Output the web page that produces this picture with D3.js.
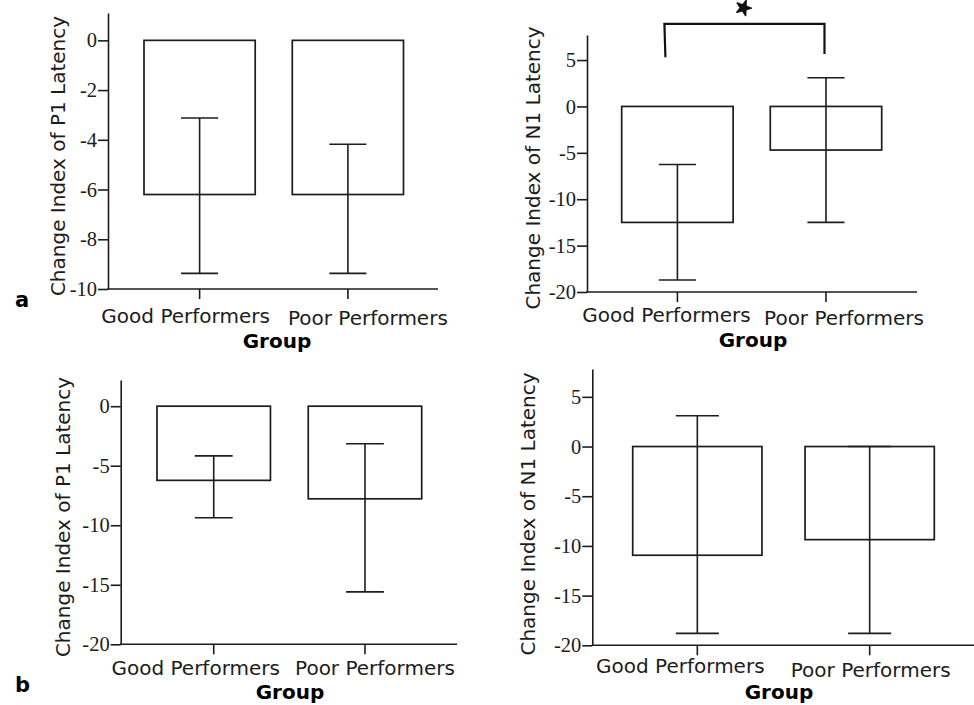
<!DOCTYPE html>
<html>
<head>
<meta charset="utf-8">
<script src="https://cdn.jsdelivr.net/npm/d3@7"></script>
<style>
  html, body { margin: 0; padding: 0; background: #fff; }
  svg { display: block; }
</style>
</head>
<body>
<svg id="chart" width="974" height="705"></svg>
<script>
// ---------------- DATA ----------------
const categories = ["Good Performers", "Poor Performers"];

// Panel a, left: P1 latency
const p1aMeans = [-6.2, -6.2];
const p1aLower = [-9.37, -9.37];
const p1aUpper = [-3.12, -4.18];
const p1aTicks = [0, -2, -4, -6, -8, -10];

// Panel a, right: N1 latency
const n1aMeans = [-12.5, -4.7];
const n1aLower = [-18.7, -12.5];
const n1aUpper = [-6.25, 3.1];
const n1aTicks = [5, 0, -5, -10, -15, -20];

// Panel b, left: P1 latency
const p1bMeans = [-6.23, -7.78];
const p1bLower = [-9.37, -15.6];
const p1bUpper = [-4.17, -3.16];
const p1bTicks = [0, -5, -10, -15, -20];

// Panel b, right: N1 latency
const n1bMeans = [-10.94, -9.37];
const n1bLower = [-18.8, -18.8];
const n1bUpper = [3.1, 0];
const n1bTicks = [5, 0, -5, -10, -15, -20];

const yTitleP1 = "Change Index of P1 Latency";
const yTitleN1 = "Change Index of N1 Latency";
const xTitle = "Group";
const panelLetters = ["a", "b"];

// significance bracket (panel a right), in data units
const sigBracket = { y: 8.9, leftEnd: 5.3, rightEnd: 5.65 };

// ---------------- LAYOUT ----------------
const panels = [
  { title: yTitleP1, means: p1aMeans, lower: p1aLower, upper: p1aUpper, ticks: p1aTicks,
    yDomain: [-10, 1.1], yRange: [289, 13], axisX: [108, 438], band: [144, 403.5],
    titleX: 65, titleY: 156, labelDx: [-14, 20], labelY: [323.3, 325],
    groupX: 277, groupY: 348 },
  { title: yTitleN1, means: n1aMeans, lower: n1aLower, upper: n1aUpper, ticks: n1aTicks,
    yDomain: [-20, 7.7], yRange: [292, 35], axisX: [587, 917], band: [621.7, 881.7],
    titleX: 540, titleY: 168, labelDx: [-11, 18], labelY: [321.7, 325],
    groupX: 753, groupY: 347, bracket: true },
  { title: yTitleP1, means: p1bMeans, lower: p1bLower, upper: p1bUpper, ticks: p1bTicks,
    yDomain: [-20, 2.2], yRange: [644.3, 380], axisX: [120.7, 457], band: [157, 421.7],
    titleX: 70, titleY: 517, labelDx: [-18, 10], labelY: [675, 675],
    groupX: 290, groupY: 699 },
  { title: yTitleN1, means: n1bMeans, lower: n1bLower, upper: n1bUpper, ticks: n1bTicks,
    yDomain: [-20, 7.8], yRange: [645.3, 369], axisX: [592.3, 976], band: [632.7, 934.3],
    titleX: 535, titleY: 514, labelDx: [-17, 1], labelY: [673, 677],
    groupX: 779, groupY: 699 }
];

const INK = "#1c1c1c";
const SANS = "'DejaVu Sans', Verdana, sans-serif";
const SERIF = "'Liberation Serif', 'Times New Roman', serif";

const svg = d3.select("#chart");

panels.forEach((p, pi) => {
  const g = svg.append("g");
  const y = d3.scaleLinear().domain(p.yDomain).range(p.yRange);
  const x = d3.scaleBand().domain(categories).range(p.band).paddingInner(0.25).paddingOuter(0);
  const bw = x.bandwidth();
  const cx = c => x(c) + bw / 2;
  const baseY = p.yRange[0];

  // bars
  g.selectAll("rect.bar").data(categories).join("rect")
    .attr("class", "bar")
    .attr("x", c => x(c))
    .attr("width", bw)
    .attr("y", (c, i) => y(Math.max(0, p.means[i])))
    .attr("height", (c, i) => Math.abs(y(p.means[i]) - y(0)))
    .attr("fill", "#fff")
    .attr("stroke", INK)
    .attr("stroke-width", 1.7);

  // error bars
  const cap = bw / 3;
  const eb = g.selectAll("g.eb").data(categories).join("g").attr("class", "eb")
    .attr("stroke", INK).attr("stroke-width", 1.6);
  eb.append("line")
    .attr("x1", c => cx(c)).attr("x2", c => cx(c))
    .attr("y1", (c, i) => y(p.upper[i])).attr("y2", (c, i) => y(p.lower[i]));
  eb.append("line")
    .attr("x1", c => cx(c) - cap / 2).attr("x2", c => cx(c) + cap / 2)
    .attr("y1", (c, i) => y(p.upper[i])).attr("y2", (c, i) => y(p.upper[i]));
  eb.append("line")
    .attr("x1", c => cx(c) - cap / 2).attr("x2", c => cx(c) + cap / 2)
    .attr("y1", (c, i) => y(p.lower[i])).attr("y2", (c, i) => y(p.lower[i]));

  // y axis
  const yAxis = d3.axisLeft(y).tickValues(p.ticks).tickFormat(d => String(d))
    .tickSize(10).tickSizeOuter(0).tickPadding(1);
  const ya = g.append("g").attr("transform", `translate(${p.axisX[0]},0)`).call(yAxis);
  ya.select(".domain").attr("stroke", INK).attr("stroke-width", 1.6);
  ya.selectAll(".tick line").attr("stroke", INK).attr("stroke-width", 1.6);
  ya.selectAll(".tick text").attr("font-family", SERIF).attr("font-size", 20.5).attr("fill", INK);

  // x axis line
  const xLine = d3.scaleLinear().domain([0, 1]).range(p.axisX);
  g.append("line")
    .attr("x1", xLine(0) - 0.8).attr("x2", xLine(1))
    .attr("y1", baseY).attr("y2", baseY)
    .attr("stroke", INK).attr("stroke-width", 1.6);
  // x ticks
  g.selectAll("line.xt").data(categories).join("line").attr("class", "xt")
    .attr("x1", c => cx(c)).attr("x2", c => cx(c))
    .attr("y1", baseY).attr("y2", baseY + 10)
    .attr("stroke", INK).attr("stroke-width", 1.6);
  // x category labels
  g.selectAll("text.xl").data(categories).join("text").attr("class", "xl")
    .attr("x", (c, i) => cx(c) + p.labelDx[i])
    .attr("y", (c, i) => p.labelY[i])
    .attr("text-anchor", "middle")
    .attr("font-family", SANS).attr("font-size", 20).attr("fill", INK)
    .text(c => c);

  // x title
  g.append("text")
    .attr("x", p.groupX).attr("y", p.groupY)
    .attr("text-anchor", "middle")
    .attr("font-family", SANS).attr("font-weight", "bold").attr("font-size", 20).attr("fill", "#000")
    .text(xTitle);

  // y title
  g.append("text")
    .attr("transform", `translate(${p.titleX},${p.titleY}) rotate(-90)`)
    .attr("text-anchor", "middle")
    .attr("font-family", SANS).attr("font-size", 20).attr("fill", INK)
    .text(p.title);

  // significance bracket
  if (p.bracket) {
    const lx = cx(categories[0]) - 13;
    const rx = cx(categories[1]) - 1.5;
    const path = d3.path();
    path.moveTo(lx + 1, y(sigBracket.leftEnd));
    path.lineTo(lx, y(sigBracket.y));
    path.lineTo(rx, y(sigBracket.y));
    path.lineTo(rx, y(sigBracket.rightEnd));
    g.append("path").attr("d", path.toString())
      .attr("fill", "none").attr("stroke", "#111").attr("stroke-width", 2.2);
    g.append("path")
      .attr("d", d3.symbol().type(d3.symbolStar).size(70)())
      .attr("transform", `translate(${(lx + rx) / 2 - 1},${y(sigBracket.y) - 16}) rotate(20)`)
      .attr("fill", "#111").attr("stroke", "#111").attr("stroke-width", 1.5)
      .attr("stroke-linejoin", "round");
  }
});

// panel letters
svg.selectAll("text.letter").data(panelLetters).join("text").attr("class", "letter")
  .attr("x", 15)
  .attr("y", (d, i) => [306.7, 691.7][i])
  .attr("font-family", SANS).attr("font-weight", "bold").attr("font-size", 21).attr("fill", "#000")
  .text(d => d);
</script>
</body>
</html>
